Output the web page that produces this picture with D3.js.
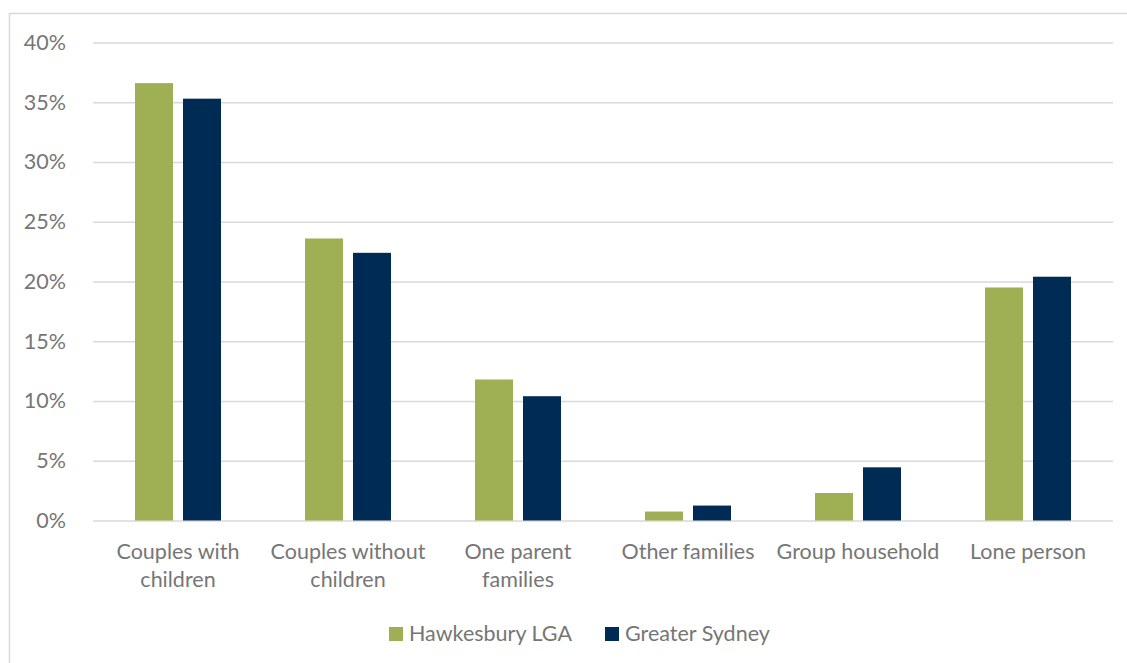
<!DOCTYPE html>
<html><head><meta charset="utf-8">
<script src="https://cdn.jsdelivr.net/npm/d3@7"></script>
<style>html,body{margin:0;background:#fff;overflow:hidden}svg{display:block}</style>
</head><body>
<svg id="c" width="1127" height="663"></svg>
<script>
const categories = [["Couples with","children"],["Couples without","children"],["One parent","families"],["Other families"],["Group household"],["Lone person"]];
const seriesNames = ["Hawkesbury LGA","Greater Sydney"];
const hawkesbury = [36.6, 23.6, 11.8, 0.75, 2.3, 19.5];
const greaterSydney = [35.3, 22.4, 10.4, 1.25, 4.45, 20.4];
const yTicks = [0,5,10,15,20,25,30,35,40];
const colors = ["#9faf53","#002b55"];

(function(){
const svg = d3.select("#c");
const font = "Lato, 'Open Sans', sans-serif";
const fs = 21.5;
svg.append("rect").attr("x",9.5).attr("y",13.5).attr("width",1130).attr("height",660)
  .attr("fill","#fff").attr("stroke","#d9d9d9").attr("stroke-width",1.5);

const pl=93, pr=1113, pt=42.5, pb=520.5;
const x0 = d3.scaleBand().domain(d3.range(categories.length)).range([pl,pr]).padding(0);
const x1 = d3.scaleBand().domain(seriesNames).range([42,128]).paddingInner(10/48).paddingOuter(0);
const y = d3.scaleLinear().domain([0,40]).range([pb,pt]);

const yAxis = d3.axisLeft(y).tickValues(yTicks).tickSize(-(pr-pl)).tickFormat(d=>d+"%");
const ga = svg.append("g").attr("transform",`translate(${pl},0)`).call(yAxis);
ga.select(".domain").remove();
ga.selectAll(".tick line").attr("stroke","#d9d9d9").attr("stroke-width",1.5);
ga.selectAll(".tick text").attr("x",-27).attr("fill","#767676").attr("font-size",fs).attr("font-family",font);

const data = [hawkesbury, greaterSydney];
data.forEach((vals,si)=>{
  svg.append("g").selectAll("rect").data(vals).join("rect")
    .attr("x",(d,i)=>x0(i)+x1(seriesNames[si]))
    .attr("width",x1.bandwidth())
    .attr("y",d=>y(d)).attr("height",d=>y(0)-y(d))
    .attr("fill",colors[si]);
});

const lab = svg.append("g").attr("font-family",font).attr("font-size",fs).attr("fill","#767676").attr("text-anchor","middle");
categories.forEach((lines,i)=>{
  const cx = x0(i)+x0.bandwidth()/2;
  const t = lab.append("text").attr("x",cx).attr("y",559);
  lines.forEach((l,j)=>t.append("tspan").attr("x",cx).attr("dy",j?28:0).text(l));
});

const legX=[389,605];
seriesNames.forEach((n,i)=>{
  svg.append("rect").attr("x",legX[i]).attr("y",627).attr("width",14).attr("height",14).attr("fill",colors[i]);
  svg.append("text").attr("x",legX[i]+20).attr("y",641).attr("font-family",font).attr("font-size",fs).attr("fill","#767676").text(n);
});
})();
</script>
</body></html>
